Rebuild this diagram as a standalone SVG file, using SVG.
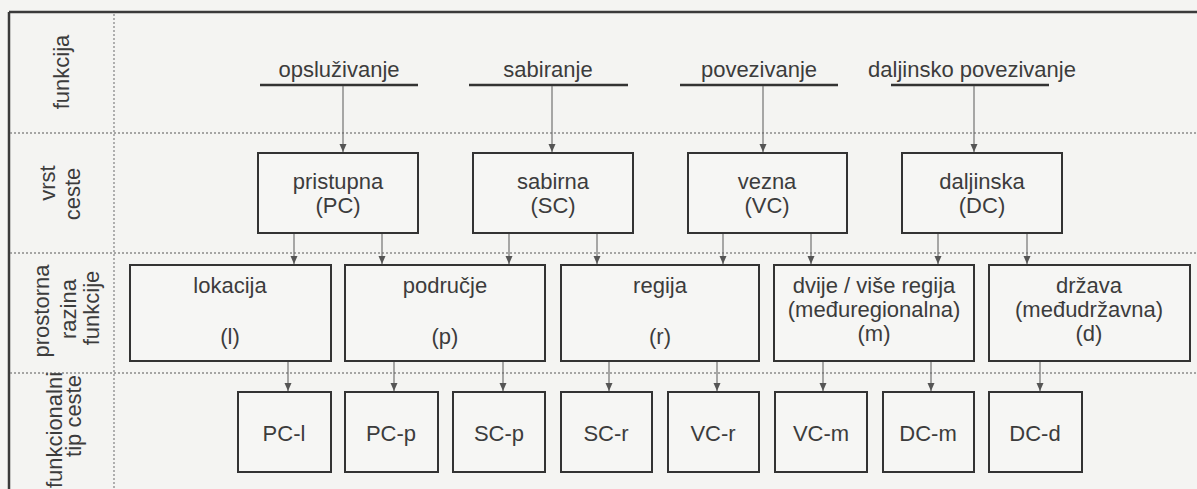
<svg xmlns="http://www.w3.org/2000/svg" width="1197" height="489" viewBox="0 0 1197 489">
<defs>
<marker id="ah" markerUnits="userSpaceOnUse" markerWidth="9" markerHeight="8" refX="8" refY="4" orient="auto">
<path d="M0,0.5 L8,4 L0,7.5 z" fill="#555"/>
</marker>
<style>
.bg{fill:#f4f4f2}
.frame{stroke:#3a3a3a;stroke-width:2.5;fill:none}
.grid{stroke:#8a8a8a;stroke-width:1.3;stroke-dasharray:2 2;fill:none}
.box{fill:#f6f6f4;stroke:#333;stroke-width:2}
.ul{stroke:#333;stroke-width:2.5}
.con{stroke:#666;stroke-width:1.1;fill:none;marker-end:url(#ah)}
text{font-family:"Liberation Sans",Arial,sans-serif;font-size:22px;fill:#3c3c3c}
.c{text-anchor:middle}
</style>
</defs>
<rect class="bg" x="0" y="0" width="1197" height="489"/>
<g id="frame">
<line class="frame" x1="9" y1="12" x2="1197" y2="12"/>
<line class="frame" x1="9" y1="12" x2="9" y2="489"/>
<line class="grid" x1="114" y1="14" x2="114" y2="489"/>
<line class="grid" x1="10" y1="133" x2="1197" y2="133"/>
<line class="grid" x1="10" y1="253" x2="1197" y2="253"/>
<line class="grid" x1="10" y1="373" x2="1197" y2="373"/>
</g>
<g id="row-labels">
<text class="c" transform="translate(69,72) rotate(-90)">funkcija</text>
<text class="c" transform="translate(55,183) rotate(-90)">vrst</text>
<text class="c" transform="translate(80,194) rotate(-90)">ceste</text>
<text class="c" transform="translate(49,311) rotate(-90)">prostorna</text>
<text class="c" transform="translate(76,309) rotate(-90)">razina</text>
<text class="c" transform="translate(99,308) rotate(-90)">funkcije</text>
<text class="c" transform="translate(62,430) rotate(-90)">funkcionalni</text>
<text class="c" transform="translate(81,416) rotate(-90)">tip ceste</text>
</g>
<g id="functions">
<g id="f-opsluzivanje"><text class="c" x="339" y="77">opsluživanje</text><line class="ul" x1="260" y1="85" x2="418" y2="85"/></g>
<g id="f-sabiranje"><text class="c" x="548" y="77">sabiranje</text><line class="ul" x1="469" y1="85" x2="628" y2="85"/></g>
<g id="f-povezivanje"><text class="c" x="759" y="77">povezivanje</text><line class="ul" x1="680" y1="85" x2="838" y2="85"/></g>
<g id="f-daljinsko"><text class="c" x="972" y="77">daljinsko povezivanje</text><line class="ul" x1="891" y1="85" x2="1049" y2="85"/></g>
</g>
<g id="PC"><rect class="box" x="258" y="153" width="160" height="80"/><text class="c" x="338" y="189">pristupna</text><text class="c" x="338" y="213">(PC)</text></g>
<g id="SC"><rect class="box" x="473" y="153" width="160" height="80"/><text class="c" x="553" y="189">sabirna</text><text class="c" x="553" y="213">(SC)</text></g>
<g id="VC"><rect class="box" x="688" y="153" width="159" height="80"/><text class="c" x="767" y="189">vezna</text><text class="c" x="767" y="213">(VC)</text></g>
<g id="DC"><rect class="box" x="902" y="153" width="160" height="80"/><text class="c" x="982" y="189">daljinska</text><text class="c" x="982" y="213">(DC)</text></g>
<g id="l"><rect class="box" x="130" y="265" width="201" height="96"/><text class="c" x="230" y="293">lokacija</text><text class="c" x="230" y="344">(l)</text></g>
<g id="p"><rect class="box" x="345" y="265" width="200" height="96"/><text class="c" x="445" y="293">područje</text><text class="c" x="445" y="344">(p)</text></g>
<g id="r"><rect class="box" x="561" y="265" width="198" height="96"/><text class="c" x="660" y="293">regija</text><text class="c" x="660" y="344">(r)</text></g>
<g id="m"><rect class="box" x="774" y="265" width="200" height="96"/><text class="c" x="874" y="293">dvije / više regija</text><text class="c" x="874" y="317">(međuregionalna)</text><text class="c" x="874" y="341">(m)</text></g>
<g id="d"><rect class="box" x="989" y="265" width="201" height="96"/><text class="c" x="1089" y="293">država</text><text class="c" x="1089" y="317">(međudržavna)</text><text class="c" x="1089" y="341">(d)</text></g>
<g id="PC-l"><rect class="box" x="238" y="392" width="93" height="80"/><text class="c" x="284" y="441">PC-l</text></g>
<g id="PC-p"><rect class="box" x="345" y="392" width="93" height="80"/><text class="c" x="391" y="441">PC-p</text></g>
<g id="SC-p"><rect class="box" x="453" y="392" width="92" height="80"/><text class="c" x="499" y="441">SC-p</text></g>
<g id="SC-r"><rect class="box" x="561" y="392" width="91" height="80"/><text class="c" x="606" y="441">SC-r</text></g>
<g id="VC-r"><rect class="box" x="668" y="392" width="91" height="80"/><text class="c" x="713" y="441">VC-r</text></g>
<g id="VC-m"><rect class="box" x="775" y="392" width="92" height="80"/><text class="c" x="821" y="441">VC-m</text></g>
<g id="DC-m"><rect class="box" x="883" y="392" width="91" height="80"/><text class="c" x="928" y="441">DC-m</text></g>
<g id="DC-d"><rect class="box" x="989" y="392" width="93" height="80"/><text class="c" x="1035" y="441">DC-d</text></g>
<g id="connectors">
<line class="con" x1="343" y1="86" x2="343" y2="152"/>
<line class="con" x1="552" y1="86" x2="552" y2="152"/>
<line class="con" x1="763" y1="86" x2="763" y2="152"/>
<line class="con" x1="974" y1="86" x2="974" y2="152"/>
<line class="con" x1="294" y1="234" x2="294" y2="264"/>
<line class="con" x1="382" y1="234" x2="382" y2="264"/>
<line class="con" x1="509" y1="234" x2="509" y2="264"/>
<line class="con" x1="597" y1="234" x2="597" y2="264"/>
<line class="con" x1="723" y1="234" x2="723" y2="264"/>
<line class="con" x1="811" y1="234" x2="811" y2="264"/>
<line class="con" x1="938" y1="234" x2="938" y2="264"/>
<line class="con" x1="1027" y1="234" x2="1027" y2="264"/>
<line class="con" x1="288" y1="362" x2="288" y2="391"/>
<line class="con" x1="394" y1="362" x2="394" y2="391"/>
<line class="con" x1="503" y1="362" x2="503" y2="391"/>
<line class="con" x1="609" y1="362" x2="609" y2="391"/>
<line class="con" x1="717" y1="362" x2="717" y2="391"/>
<line class="con" x1="823" y1="362" x2="823" y2="391"/>
<line class="con" x1="931" y1="362" x2="931" y2="391"/>
<line class="con" x1="1040" y1="362" x2="1040" y2="391"/>
</g>
</svg>
